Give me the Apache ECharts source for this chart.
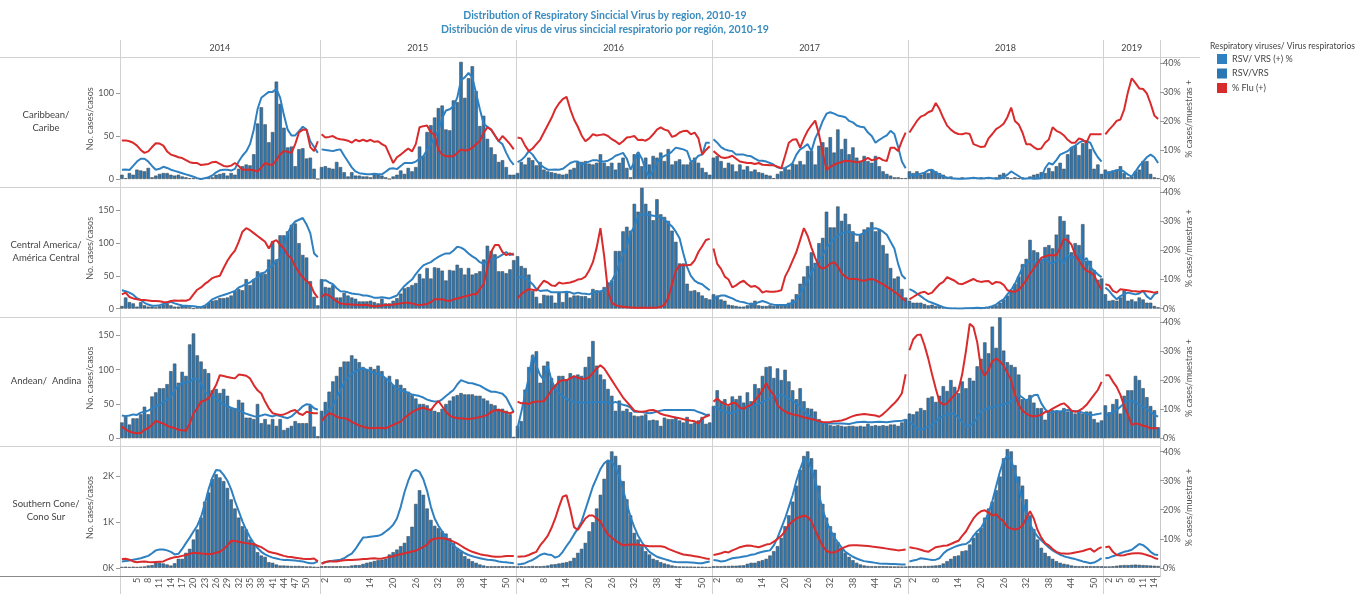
<!DOCTYPE html>
<html>
<head>
<meta charset="utf-8">
<script src="https://cdn.jsdelivr.net/npm/echarts@6/dist/echarts.min.js"></script>
<style>
  html, body { margin: 0; padding: 0; background: #fff; }
  #rsv-chart { width: 1358px; height: 594px; }
</style>
</head>
<body>
<div id="rsv-chart"></div>
<script>
// Distribution of RSV by region, weekly, 2014-2019
const years = [2014, 2015, 2016, 2017, 2018, 2019];
const weeksPerYear = [53, 52, 52, 52, 52, 15];

// Caribbean / Caribe  (one inner array per year)
const caribeCases = [
  [5,1,7,5,11,10,9,13,2,4,6,7,7,5,4,5,3,2,1,1,1,0,1,2,2,5,6,7,4,7,5,12,15,17,16,29,65,84,64,43,55,114,88,60,37,38,15,35,36,24,25,12,0],
  [14,15,13,12,20,14,8,3,8,4,4,3,3,2,6,5,4,2,0,3,5,10,6,13,9,14,38,27,55,63,72,83,86,58,57,92,90,137,95,118,132,103,62,74,47,37,29,20,22,14,5,5],
  [7,20,17,25,22,16,20,11,9,8,7,6,5,6,11,13,20,20,21,18,17,19,29,19,15,19,11,19,25,13,2,29,31,15,25,17,27,25,31,21,35,17,21,23,17,17,20,25,19,13,8,5],
  [25,27,21,13,19,17,9,17,11,15,9,11,8,7,5,4,1,6,9,13,11,18,17,21,17,33,33,17,39,43,37,49,31,58,35,47,29,37,25,21,27,21,19,27,15,9,6,4,2,2,1,1],
  [9,7,9,5,8,7,11,9,7,5,2,3,1,1,2,1,1,2,1,2,1,2,1,2,5,7,2,1,2,1,2,1,3,5,6,8,7,13,9,15,19,12,29,37,39,28,42,45,35,12,17,6],
  [11,9,10,11,15,7,2,3,9,11,21,21,6,2,1]
];
const caribeRsvPct = [
  [3.2,3.3,3.1,4.5,6,7,7,6,4.5,3.2,3.5,4.2,3.8,3.2,2.8,2.4,2,1.6,1.2,0.8,0.3,0,0.3,0.6,1.2,2.3,3,3.2,3.2,2.9,3.5,6,8,9.5,12,17,24,28,29,30,30,31,28,22,17,15,15,16.5,18,17,13,11,9],
  [10.2,10,9.8,9.6,10,10.2,8,6,4,2.6,2,1.8,1.6,1.6,1.8,1.6,1.6,2.5,3.5,3.7,3.4,4.5,5.5,5.5,5.5,6,7,7.8,10,12,14.5,16.6,21,23.6,24,25,28,34,35,36.5,35,29.5,24,19,18,17,15,13,12,9,6.5,4.9],
  [5.8,6.5,7.8,9.6,8.4,6.5,4.9,4,3.2,3.2,3.3,3.2,3.5,4.5,5.5,6,6,5,5.5,6,6.5,6.5,6,6,6.3,7,8,8.5,9,7,3.2,6,9.3,7,3,0.8,3,5.5,7.3,8,8.4,9.5,10.8,10.5,10.2,9.6,6,6.5,8,8.4,12.5,12.5],
  [13.7,12.5,11,10.2,9.8,9.6,8.4,8.4,8.4,8,7.8,7,6.3,6.3,6,5.5,4.9,4,3.7,3.8,4.5,5.5,8.4,10.2,11,12,9.6,14,16.6,20,22.5,23,22.5,21.9,21.6,21.3,20,19.5,18.4,18,17.8,16,14.8,12.5,13.5,14.3,15,16.6,15.5,11,6,3.7],
  [1.4,1.4,1.5,1.8,2.2,3,3.2,2.2,1.5,0.8,0.5,0.3,0.2,0.1,0.1,0.2,0.3,0.4,0.3,0.2,0.3,0.4,0.3,0.1,0.2,0.5,1.5,2.6,1.8,1,0.1,0.2,0.3,0.1,0.2,0.3,3.7,5.5,5,6.5,8.4,9,9.6,10.8,11.5,12.5,13.1,13,12.5,9.6,7.5,6],
  [2,2.2,2.6,3,3.2,2.5,1.5,0.8,2.6,4.5,6,7.5,8.4,7.5,5.5]
];
const caribeFluPct = [
  [13.3,13.3,13,12.5,11.5,10,9,9.5,11,12.3,12.2,11.5,9.5,8.4,8,7.5,7.2,6.5,5.8,5.5,5.5,4.8,5,5.2,5.8,5.9,5.2,4.5,4.3,4.6,5.5,4.5,3.2,3.2,3.2,3,2.6,4,5.5,5,4.9,6.5,8.5,9.6,9.4,9,12,16,17,17,11,9.6,13],
  [15.4,14.3,14.5,14.8,14,13.7,13.5,13.2,12.5,13.5,13,13.5,13,13.5,12.8,13,12,11.3,8.4,5.5,7.5,8.4,9.5,10.5,9.5,12,17.8,18.2,18.4,16,15.4,10,8.4,7.8,7.8,7.8,9,10.2,9.8,10,10.8,12,13.1,16,17.8,17,15,13,14.8,13.5,12,10.2],
  [14.3,14,11.5,9.6,10.5,12,13.5,16,18.5,21,24,26,27.5,28.3,24,20.5,18,15,13,14,15.4,15,15.2,15.4,14.8,13.7,13,12,13,14.3,14.5,14.8,13.4,13.5,13.2,14,15.4,17,17.8,17,16.6,14.5,15,16,16.5,16.6,15.4,16,14,8.4,10,11.3],
  [9.6,8.5,7.5,7.2,7.5,8,7,6,5.8,5.5,5.5,5.2,5.5,4.9,4.8,4.7,4.7,4.2,3.7,8,12.5,13.5,13.7,10.8,14,16.6,18.5,20.1,15.4,9,3.2,4.2,4.9,5.5,5.8,6.3,6.2,6,5.8,6,6.5,7.3,6.4,6.8,7.3,6.5,6.2,10.8,10.8,9.6,13.1,16],
  [16,18,20,21.5,22,23,23.5,26.2,24,21,18.4,17,16,15.5,15.4,15.8,15.5,12,11.5,11,11.2,14,15.5,17.2,18,19,21.3,24.6,20,18.8,16,12,12,11,10.2,10.5,12.5,13.6,17.8,16.6,16,15,13.5,12.5,12.5,14,13.5,12.5,15.4,15.4,15.4,15.4],
  [15.4,17,18.4,20,20.5,24,30,34.7,33,31.2,31,29.5,26,21.9,20.7]
];

// Central America / América Central
const centralCases = [
  [4,17,10,8,3,10,5,3,3,2,4,6,8,5,3,3,5,4,2,0,2,3,5,9,12,13,16,16,17,20,27,30,28,45,36,45,57,55,53,75,103,75,112,112,118,128,130,100,82,78,42,18,5],
  [45,33,32,36,17,17,24,20,17,15,11,11,11,12,10,8,15,8,8,12,16,23,31,33,36,39,53,46,62,46,63,62,58,43,59,58,67,62,52,62,52,54,57,75,96,88,83,57,57,54,60,74],
  [80,65,62,52,27,18,8,21,20,20,9,25,10,26,17,20,20,19,19,16,30,28,27,33,40,43,88,88,118,125,119,160,148,187,160,149,135,167,144,140,134,119,102,69,69,38,27,28,25,20,16,14],
  [22,20,14,12,6,5,4,3,3,5,9,12,5,4,4,5,4,5,4,6,9,14,22,38,49,65,86,70,100,108,148,124,124,156,134,145,129,118,102,113,121,124,132,118,121,97,84,62,46,49,30,17],
  [12,9,9,9,7,5,6,4,5,2,1,1,1,0,0,1,1,0,1,0,1,2,3,5,9,14,20,28,38,49,68,76,105,89,86,76,94,97,92,113,141,134,113,86,100,97,129,73,73,59,44,46],
  [22,12,13,12,17,28,12,14,11,17,14,9,9,4,2]
];
const centralRsvPct = [
  [6.3,6,5.5,4.8,3.6,3,2,1.4,1,1,1.2,1.6,2,2.3,1.8,1.4,1.1,1,0.9,0.8,0.6,0.5,1,2,3.2,3.8,4.3,4.7,5.1,5.6,6.1,7.3,7.8,8.5,9,10,10.8,12,12.5,14,14.8,16.5,17.2,21.5,26,28.5,30,30.6,31.2,29,26,19,17.8],
  [9.6,9.8,9,8.4,7,6,5.9,5.6,5.2,5,4.9,4.5,4.5,4.2,3.7,3.7,3.9,3.7,3.5,4,4.5,6.3,7.8,9,10,11.9,13.5,14.9,15.5,16,17,17.8,18.5,19,19,20,21.3,21,20.2,19,18,17.2,16,15.4,16.8,17,17.2,17.8,18.6,19.5,18.4,19],
  [10.5,11,10.5,9.6,8.4,6.7,6.1,6.2,6.3,5.6,5.6,5.6,5.6,5.8,5.6,5.1,5.5,5.2,5.1,4.9,5.5,5.8,6,6.3,7.2,9.5,12,15.5,18.5,21.3,26,28.3,31.8,32.4,32.4,32.2,32,31.8,31.5,30.6,29.5,28.3,26.5,24.2,19,14.3,11.3,9.6,8.8,8.4,7.3,6.3],
  [3.2,4,4.5,4.5,4,3.5,2.8,2.4,2.2,1.8,1.5,1.6,2.2,2.6,2.2,1.6,1.3,1.2,1.2,1.2,1.5,2,2.6,4.9,7.5,9.6,12.5,14.3,17,18.4,21,22.5,24.2,25,26,26.3,26.5,26,25.4,25.5,26,27.1,27.5,27.7,27.3,26.5,25.4,23,20.7,15.4,11.5,10.2],
  [6.7,6.1,5.2,4.3,3.3,2.5,2,1.5,1,0.5,0.2,0,0,0,0,0.1,0.1,0.2,0.3,0.2,0.3,0.5,0.8,1.4,2.4,3.2,4.9,6.5,8.5,11.3,14,15.5,16.6,16,15.4,16.5,17.2,16,15.4,16.6,17.2,15.4,18.4,17.5,17.8,19,16,17.5,14.3,13,11.8,10.8],
  [7.3,6.1,4.5,3.2,4.3,5,5.5,5.2,4.9,5.2,6.1,4.2,3.2,4.9,5.5]
];
const centralFluPct = [
  [4.9,5.5,4,3.5,3.2,3,3,2.8,2.6,2.6,2.5,2.3,2.2,2.6,2.8,2.7,2.8,2.7,3.2,4.9,6.5,7.3,8.5,9.4,10.5,11,11.3,14,16.5,18.4,20,23,26.5,27.7,27,26,25,24,23,20.7,23,23.6,22,20.7,18.5,17.2,14.5,12.5,10.8,9.5,8.4,5.5,3.7],
  [4,5.1,4.5,3.5,2.5,1.8,1.6,1.5,1.4,1.3,1.2,1.2,1.3,1,0.8,0.9,1.1,1.2,1.2,1.4,1.6,1.8,2,2,1.8,1.4,1.2,1.4,1.6,2.2,3.2,3.2,3.2,2.8,2.6,3.2,3.5,3.8,4.2,4.5,4.9,4.9,6.7,8.4,14,19.5,21.9,21.9,19.5,18.4,19,18.4],
  [3.5,5,6,6.7,6.5,6.2,8,9.6,9,8,7.8,9,8.6,8.8,9,9.4,10,10.2,11,13.1,16,21,27.7,18,6,2,1.2,0.8,0.6,0.5,0.4,0.3,0.3,0.3,0.3,0.3,0.3,0.4,0.6,1.4,3.7,8.4,13,14.9,14.9,14.9,15.1,16.6,19.5,21.5,23.6,24],
  [20.7,15.4,13.7,11,10,7.3,8,9,9.6,8.4,7.5,7.8,7,5.5,6,5.8,5.8,6,6.3,11,13.5,16.5,19.5,23.6,27.7,25,21,17.5,14.5,13.8,14.3,15.5,16,14.5,12.2,11,10.2,10.2,10.2,9.8,9.6,10,10.2,9.8,9,8.4,7.5,6.7,5.8,4.9,3.6,2.6],
  [3.2,4,4.8,5.5,5.8,5,5.5,7,8.4,9.2,10.8,10.2,9.6,8.6,8.4,9,9.6,10.2,9.5,9.2,9.4,9.5,8.4,9.2,9,8.2,6.3,6,5.8,6.5,8,9.8,11.9,13.8,15.6,17.5,18,18.4,18.4,18.4,21,24,23.5,22,18.5,16.5,14.5,13,12.5,11.5,8.8,6.5],
  [8.4,8,6.1,5.5,6.7,6.5,6.3,6.1,6,5.8,6.1,6,5.8,5.5,5.8]
];

// Andean / Andina
const andeanCases = [
  [23,33,20,29,29,35,46,35,61,67,73,73,79,98,109,81,97,91,137,153,121,112,101,95,70,72,66,72,62,44,44,56,52,30,30,28,50,22,28,20,28,18,28,12,15,18,25,22,22,22,48,17,3],
  [40,53,68,83,91,104,112,112,121,116,111,104,100,104,101,106,98,88,91,78,86,78,73,68,63,58,50,50,48,43,40,38,43,50,55,61,63,66,64,64,64,62,62,58,55,50,48,43,43,40,35,2],
  [18,25,71,104,121,127,81,106,112,88,78,91,91,86,95,91,93,91,104,119,142,106,93,86,72,62,40,55,40,43,38,33,32,33,35,26,27,26,18,30,28,28,31,26,23,31,21,23,26,31,21,23],
  [47,70,54,57,47,61,57,62,52,67,54,79,73,91,104,105,88,102,85,100,83,70,57,73,54,44,43,39,28,23,21,19,18,19,18,17,18,18,17,18,17,21,18,19,18,19,18,20,20,18,23,28],
  [36,35,39,44,41,59,61,53,62,76,69,85,75,66,83,73,88,84,105,116,140,124,163,132,184,128,111,107,104,93,57,57,63,52,44,44,27,39,41,39,39,44,39,41,36,41,36,39,39,28,23,26],
  [48,38,50,57,36,62,70,70,91,85,73,60,47,41,16]
];
const andeanRsvPct = [
  [7.8,7.6,7.8,8.2,8,8.8,9.1,9.5,10.3,11,11.6,12.4,13.2,14.2,16.5,18.2,18.9,19.2,19.4,20.5,20.5,19,16,15,14.5,13.7,12.5,11.6,11,10.5,10,9.5,9,8.4,8,7.6,7.5,7.8,8.2,7.8,7.5,8,7.6,7.2,6.9,7.5,8.7,9.7,11,11.7,11.5,10.3,9.8],
  [5.5,8,10,11.2,14,16.5,19.4,20.8,22,23,23.8,24,23.6,23,22.3,22,21.7,20.6,19.7,18.2,17,16.5,16.2,15.5,15.1,14.8,14.5,14,13.3,12.9,12.6,12.6,13.4,14.5,15.6,16.6,18.5,20,19.5,19,18.9,18.5,18.1,17.3,16.6,16,16,15.7,15.3,14,11.5,9],
  [3.5,9,15,21,28.8,25,21.7,20,25,20,17,15.5,14.5,13.5,13,12.3,12.3,12.3,12.3,12.3,12.3,12.5,12.5,12.5,12.3,12,12.5,12,11.5,11.2,10.5,9.1,9.1,9,8.8,8.6,8.8,9.2,9.5,9.7,9.7,9.7,9.7,9.7,9.7,9.7,9.7,9.6,9,8.6,8,8.2],
  [10.9,10.5,9.7,9.2,8.6,8.8,9.2,9.9,10.3,10.6,10.9,11.3,11.8,12.4,13.1,13.7,14.3,14.6,14.9,14.5,13.5,13,12,10.9,9.5,8,7,6,5.4,5.1,5.1,5.1,5.1,5.1,5.1,5,4.9,5.2,5.5,5.6,5.7,5.5,5.5,5.6,5.7,5.6,5.5,5.7,5.8,5.9,6,6.3],
  [5.7,4.6,3.5,2.9,3.3,3.9,4.6,5.8,7,7.6,8.1,8.6,8.3,7,5.5,4.2,4.3,5.3,6.9,9.2,9.9,10.3,10.7,11,11.3,11.7,12,12.6,13.8,14.9,14,13,13.7,14.8,15,12,10,8.8,8.9,9.4,9.2,9.5,9.7,9.5,9.3,9.1,8.8,8.4,8,8.1,8.3,8.6],
  [7.4,8.4,9,9.6,10.8,12,13.1,12.8,12.5,11.5,10.9,10,9.1,8,7.4]
];
const andeanFluPct = [
  [4,3,2.3,1.9,1.7,1.8,2.9,3.5,4.6,5.9,5.5,5,4.3,3.8,3.5,2.9,2.7,2.6,5,8.5,10.3,12.6,13,13.7,16,18.3,21.7,21.4,21.1,20.8,20.6,21.9,21.8,21.5,20.6,18.3,16.5,15.4,12.6,10.3,8.6,8.3,8,8.2,8.7,9.4,9.7,8.5,8,9.1,8.8,8.6,8.6],
  [5.9,7.5,8.6,8.2,7.4,7,6.9,6.5,5.6,5,4.3,4,3.6,3.4,3.5,3.6,3.5,3.4,4,4.6,5.2,5.7,7,8,9,9.7,10.2,10.5,10,9.7,11.4,12.8,11,9.1,7.8,7.2,6.9,6.9,6.7,6.6,6.8,7,7.3,7.6,8,9.1,9.6,9.7,9.3,8.9,8.6,9.1],
  [12.6,12,12,11.8,12.4,12.6,12.6,12.8,14.5,16.5,18,19.5,20,20,20.6,21.4,20.8,20.5,20.4,21,22.5,24,25.1,24,22,20,18,16,14,12.5,11,9.5,9.2,9.1,9.3,9.6,9.7,9.2,8.4,8,7.7,7.4,7.1,6.9,6.5,6.3,6,5.8,5.1,6.8,7.4,8],
  [12.6,13.7,12.5,11.8,11.4,12.2,12,10.5,10.1,11,11.4,13,14.5,16.5,18.9,16.5,14.9,11.4,10,9.2,8.6,8.2,8,7.6,7.2,6.9,6.6,6.3,5.8,5.6,5.5,5.6,5.8,5.9,6.1,6.5,7.1,7.6,8,8.2,8.3,8.2,8,7.8,7.4,8.3,9.5,10.8,12,13.5,15.5,22],
  [30.3,34,35.5,35.7,32,27.4,22,17,12.5,11.5,12,13.5,14.9,16.5,22,30,39.4,38.3,33,24,21.5,23.5,26.5,27.4,26.5,25,22.5,20,15,11.5,9.5,8.5,7.8,7.5,7.7,8.1,9,9.3,10.2,10.9,11.6,12,10.9,9.5,9.1,9.5,10.3,11.5,13.2,14.9,16.6,19.4],
  [21.7,21.7,19.5,17.7,14.9,11,8,4.6,5.1,4.8,4.3,4,3.4,3.4,3.4]
];

// Southern Cone / Cono Sur
const southernCases = [
  [20,25,20,25,20,25,30,50,60,110,110,95,73,50,100,197,197,328,416,620,840,1100,1450,1650,1950,2050,1980,1900,1750,1500,1300,1100,910,840,620,510,343,270,240,124,110,73,50,50,45,40,40,40,35,30,30,25,20],
  [35,35,35,35,35,35,35,35,50,60,60,85,110,128,150,168,180,197,292,343,400,475,547,693,900,1400,1700,1600,1300,1050,920,870,800,750,650,547,438,365,255,197,146,110,73,51,35,35,35,35,35,35,35,35],
  [30,35,30,35,40,35,35,40,50,73,80,95,110,124,150,219,328,416,547,800,1000,1300,1600,1950,2350,2550,2450,2250,1900,1500,1150,766,620,475,365,292,197,168,124,95,73,51,36,30,30,28,28,25,25,25,22,20],
  [36,36,36,40,40,45,45,51,55,88,110,110,146,168,197,270,365,475,657,912,1150,1450,1800,2150,2450,2550,2400,2150,1800,1400,1100,912,766,562,438,328,241,168,110,73,51,40,36,36,36,35,35,32,30,30,28,28],
  [36,36,36,36,40,40,45,51,60,95,146,197,255,270,365,380,510,657,766,876,1100,1300,1450,1700,2000,2400,2600,2550,2250,2000,1800,1500,1150,850,620,438,328,255,197,146,110,88,73,51,40,36,36,36,36,36,36,36],
  [30,30,35,45,55,60,60,65,70,65,60,55,50,45,40]
];
const southernRsvPct = [
  [2.2,2.3,2.5,2.8,3,3.3,3.7,4.1,5,6,6.3,6.3,6,5.5,4.6,4.8,6.5,8.5,10.4,12.5,14.5,17.5,22,27,31,33.7,33.5,32,30,27,23,19.5,16,13,10.5,8.5,6.8,5.5,4.6,4,3.5,3.2,2.9,2.7,2.7,2.6,2.5,2.3,2.2,1.8,1.6,1.6,2.2],
  [1.6,1.9,2.2,2.4,2.6,2.8,3.3,4.2,4.9,6.5,8.5,10.4,10.5,10.7,10.9,11,11.5,12.5,13.5,14.8,17,21,26,30,33,33.7,33,30.5,26.5,21,17,14.5,12.5,10.5,9,7.8,6.6,5.8,5,4.4,4,3.6,3.3,3,2.8,2.7,2.5,2.2,2,1.9,1.7,1.6],
  [1.1,1.3,1.6,2.2,2.7,3.5,4.4,4.9,4.6,4.4,3.5,4,5.5,7.5,9.3,11.5,13.5,16,20,24,28,31,34,36,37,36.5,34.5,31.5,27,22,17.5,14,11,8.8,7,5.5,4.6,3.8,3.4,3,2.6,2.2,2,1.9,1.9,1.9,1.8,1.7,1.6,1.6,1.9,2.2],
  [2.7,2.5,2.2,2.3,2.8,3.3,3.5,3.6,3.9,4.1,4.5,4.7,5.2,5.5,5.8,6,7.7,10.4,13.7,17,21,25,30,34,37.5,37,34,30,25,20,16,13,10.5,8.8,7,5.5,4.6,3.8,3.2,2.7,2.3,2.1,1.9,1.7,1.5,1.4,1.4,1.3,1.3,1.2,1.1,1.1],
  [2.2,2.5,2.8,3.3,3.1,2.9,2.7,2.8,3.3,4.9,6,6.6,7.2,7.7,8,8.2,9.1,11,12.6,13.7,16,19,23,28,33,37,38.5,37,33,28,23,18.5,15,12.6,10.8,9.5,8.2,7,6,5.2,4.5,4,3.6,3.3,3,2.6,2.2,1.9,1.6,1.8,2.5,3.3],
  [3.3,3.5,4,4.4,5,5.5,5.8,6.2,7.2,8.2,7.8,6.8,5.5,4.6,4.4]
];
const southernFluPct = [
  [3,3.1,2.8,2.2,1.9,2.1,2.2,2,1.9,2,2.1,2.2,2.8,3.3,3.6,3.8,4.1,4.4,4.8,5.2,5.1,4.9,4.8,4.7,4.8,5.2,5.5,6.5,7.7,9.3,9.2,9,8.7,8.5,8.3,8.2,7.6,7.1,6.3,5.5,5.2,4.9,4.5,4.1,3.8,3.7,3.5,3.3,3.1,3,3,3.2,2.2],
  [1.4,2,2.3,2.2,2.2,2.4,2.6,2.7,2.7,2.8,2.9,3,3,3.2,3.3,3.1,3.2,3.5,3.7,4,4.4,4.7,5,5.3,5.6,5.9,6.5,7.2,8,9.6,10,10.2,10.2,10,9.5,9,8.4,7.6,6.8,6.1,5.5,5.1,4.7,4.4,4.2,4,3.8,3.8,3.9,4.1,4.1,4.1],
  [3.8,3.9,4,4.4,5,5.5,7.7,9.3,11,13.7,17,21,24.5,25,20,14,13,15,17,18,18,17,16,13.5,11.5,10.4,9.3,8.5,7.7,7.9,8,8,8,7.8,7.6,7.4,7.4,7.4,7.4,7.2,6.5,6,5.5,5,4.6,4.4,4.2,4,3.8,3.5,3.2,3],
  [4.4,4.7,5,5.5,5.3,6,6.5,7.1,7.4,7.7,7.6,7.3,7.1,7.5,8,8.2,9,9.9,11,12.6,14.8,16,17,17.5,18,17.5,16,13,10,7.5,5.8,5.3,5.3,5.8,6.6,7.2,7.7,7.8,7.8,7.7,7.6,7.5,7.3,7.2,7,6.8,6.6,6.4,6.2,6,6.1,6.3],
  [7.1,6.8,6.6,6.2,5.8,5.5,6.3,7.1,7.3,7.6,7.7,8.2,8.8,9.3,11,12.5,14.8,17,18.5,19.5,19.8,19,18,18.5,17,16,14,13.5,13.2,13.5,14.6,17,19.5,17,13,10.4,8.5,7.7,6.5,5.5,5,4.9,4.8,5,5.3,5.5,5.8,6.2,6.6,5.5,6.5,7.1],
  [7.1,7.3,5.5,4.4,4.2,4.3,4.7,4.9,5,5,4.8,4.4,4,3.4,3]
];

const regions = [
  { label: 'Caribbean/\nCaribe', cases: caribeCases, rsv: caribeRsvPct, flu: caribeFluPct, max: 141, step: 50 },
  { label: 'Central America/\nAmérica Central', cases: centralCases, rsv: centralRsvPct, flu: centralFluPct, max: 184, step: 50 },
  { label: 'Andean/  Andina', cases: andeanCases, rsv: andeanRsvPct, flu: andeanFluPct, max: 176, step: 50 },
  { label: 'Southern Cone/\nCono Sur', cases: southernCases, rsv: southernRsvPct, flu: southernFluPct, max: 2640, step: 1000 }
];

const FONT = 'Lato, "Open Sans", sans-serif';
const BAR_BLUE = '#2a77b4';
const LINE_BLUE = '#2f80c0';
const LINE_RED = '#d92a2c';
const PLOT_L = 120, PLOT_R = 1160;
const ROW_TOP = 58.5, ROW_STEP = 129.6, ROW_H = 120.5;
const PCT_MAX = 41.5;

function initRsvChart() {
    const chart = echarts.init(document.getElementById('rsv-chart'));
    const totalWeeks = weeksPerYear.reduce((a, b) => a + b, 0);
    const wk = (PLOT_R - PLOT_L) / totalWeeks;
    const colLeft = [];
    let acc = PLOT_L;
    weeksPerYear.forEach(n => { colLeft.push(acc); acc += n * wk; });

    // week label rule per year panel
    const showWeek = (c, w) => {
        if (c === 0) return w >= 5 && w <= 50 && (w - 2) % 3 === 0;
        if (c === 5) return (w - 2) % 3 === 0;
        return (w - 2) % 6 === 0;
    };

    const grids = [], xAxes = [], yAxes = [], series = [];
    regions.forEach((reg, r) => {
        const top = ROW_TOP + r * ROW_STEP;
        const leftTicks = [];
        for (let v = 0; v <= reg.max; v += reg.step) leftTicks.push(v);
        years.forEach((yr, c) => {
            const g = r * years.length + c;
            const n = weeksPerYear[c];
            grids.push({ left: colLeft[c], width: n * wk, top: top, height: ROW_H });
            xAxes.push({
                type: 'category', gridIndex: g,
                data: Array.from({ length: n }, (_, i) => String(i + 1)),
                axisLine: { show: false }, axisTick: { show: false },
                axisLabel: {
                    show: r === 3, rotate: 90, margin: 10, fontSize: 9, color: '#555', fontFamily: FONT,
                    interval: (idx, val) => showWeek(c, +val)
                }
            });
            yAxes.push({
                type: 'value', gridIndex: g, min: 0, max: reg.max, interval: reg.step,
                name: c === 0 ? 'No. cases/casos' : '', nameLocation: 'middle', nameGap: 25, nameRotate: 90,
                nameTextStyle: { fontSize: 9, color: '#555', fontFamily: FONT },
                axisLine: { show: false },
                axisTick: { show: c === 0, length: 4, lineStyle: { color: '#999' }, customValues: leftTicks },
                axisLabel: {
                    show: c === 0, fontSize: 9, color: '#555', fontFamily: FONT, margin: 6, customValues: leftTicks,
                    formatter: v => (v % reg.step !== 0 ? '' : (reg.step === 1000 ? (v / 1000) + 'K' : v))
                },
                splitLine: { show: false }
            });
            yAxes.push({
                type: 'value', gridIndex: g, position: 'right', min: 0, max: PCT_MAX, interval: 10,
                name: c === 5 ? '% cases/muestras +' : '', nameLocation: 'middle', nameGap: 24, nameRotate: 90,
                nameTextStyle: { fontSize: 9, color: '#555', fontFamily: FONT },
                axisLine: { show: c === 5, lineStyle: { color: '#c8c8c8' } },
                axisTick: { show: c === 5, length: 4, lineStyle: { color: '#999' }, customValues: [0, 10, 20, 30, 40] },
                axisLabel: {
                    show: c === 5, fontSize: 9, color: '#555', fontFamily: FONT, margin: 3,
                    customValues: [0, 10, 20, 30, 40],
                    formatter: v => (v % 10 !== 0 ? '' : v + '%')
                },
                splitLine: { show: false }
            });
            series.push({
                name: 'RSV/VRS', type: 'bar', xAxisIndex: g, yAxisIndex: 2 * g,
                data: reg.cases[c], barCategoryGap: '8%', z: 2,
                itemStyle: { color: BAR_BLUE, borderColor: '#4d4d4d', borderWidth: 0.6 }
            });
            series.push({
                name: 'RSV/ VRS (+) %', type: 'line', xAxisIndex: g, yAxisIndex: 2 * g + 1,
                data: reg.rsv[c], symbol: 'none', z: 3,
                itemStyle: { color: LINE_BLUE }, lineStyle: { color: LINE_BLUE, width: 2 }
            });
            series.push({
                name: '% Flu (+)', type: 'line', xAxisIndex: g, yAxisIndex: 2 * g + 1,
                data: reg.flu[c], symbol: 'none', z: 4,
                itemStyle: { color: LINE_RED }, lineStyle: { color: LINE_RED, width: 2 }
            });
        });
    });

    // frame lines, headers, region labels
    const graphics = [];
    const px = v => Math.round(v) + 0.5;
    colLeft.concat([PLOT_R]).forEach(x => graphics.push({
        type: 'line', silent: true,
        shape: { x1: px(x), y1: 40, x2: px(x), y2: x === PLOT_R ? 577 : 594 },
        style: { stroke: '#d2d2d2', lineWidth: 1 }
    }));
    [57, 187, 317, 446].forEach((y, i) => graphics.push({
        type: 'line', silent: true,
        shape: { x1: 0, y1: px(y), x2: i === 0 ? 1200 : PLOT_R, y2: px(y) },
        style: { stroke: '#d2d2d2', lineWidth: 1 }
    }));
    graphics.push({
        type: 'line', silent: true,
        shape: { x1: 0, y1: 576.5, x2: PLOT_R, y2: 576.5 },
        style: { stroke: '#8a8a8a', lineWidth: 1 }
    });
    years.forEach((yr, c) => graphics.push({
        type: 'text', silent: true,
        x: colLeft[c] + weeksPerYear[c] * wk / 2, y: 48,
        style: { text: String(yr), fontSize: 9, fill: '#444', fontFamily: FONT, align: 'center', verticalAlign: 'middle' }
    }));
    regions.forEach((reg, r) => graphics.push({
        type: 'text', silent: true,
        x: 46, y: ROW_TOP + r * ROW_STEP + ROW_H / 2 + 3,
        style: { text: reg.label, fontSize: 9.5, lineHeight: 13, fill: '#444', fontFamily: FONT, align: 'center', verticalAlign: 'middle' }
    }));
    graphics.push({
        type: 'text', silent: true, x: 605, y: 16,
        style: { text: 'Distribution of Respiratory Sincicial Virus by region, 2010-19', fontSize: 10.5, fontWeight: 'bold', fill: '#3a8bbf', fontFamily: FONT, align: 'center', verticalAlign: 'middle' }
    });
    graphics.push({
        type: 'text', silent: true, x: 605, y: 30,
        style: { text: 'Distribución de virus de virus sincicial respiratorio por región, 2010-19', fontSize: 10.5, fontWeight: 'bold', fill: '#3a8bbf', fontFamily: FONT, align: 'center', verticalAlign: 'middle' }
    });
    graphics.push({
        type: 'text', silent: true, x: 1210, y: 46,
        style: { text: 'Respiratory viruses/ Virus respiratorios', fontSize: 8.5, fill: '#444', fontFamily: FONT, verticalAlign: 'middle' }
    });

    const option = {
        animation: false,
        textStyle: { fontFamily: FONT },
        grid: grids,
        xAxis: xAxes,
        yAxis: yAxes,
        legend: {
            data: ['RSV/ VRS (+) %', 'RSV/VRS', '% Flu (+)'],
            orient: 'vertical', left: 1212, top: 49,
            icon: 'rect', itemWidth: 10, itemHeight: 10, itemGap: 4.5,
            itemStyle: { borderWidth: 0 },
            textStyle: { fontSize: 9, color: '#444', fontFamily: FONT },
            selectedMode: false
        },
        graphic: graphics,
        series: series
    };
    chart.setOption(option);
    window.addEventListener('resize', () => chart.resize());
}
window.addEventListener('load', initRsvChart);
</script>
</body>
</html>
